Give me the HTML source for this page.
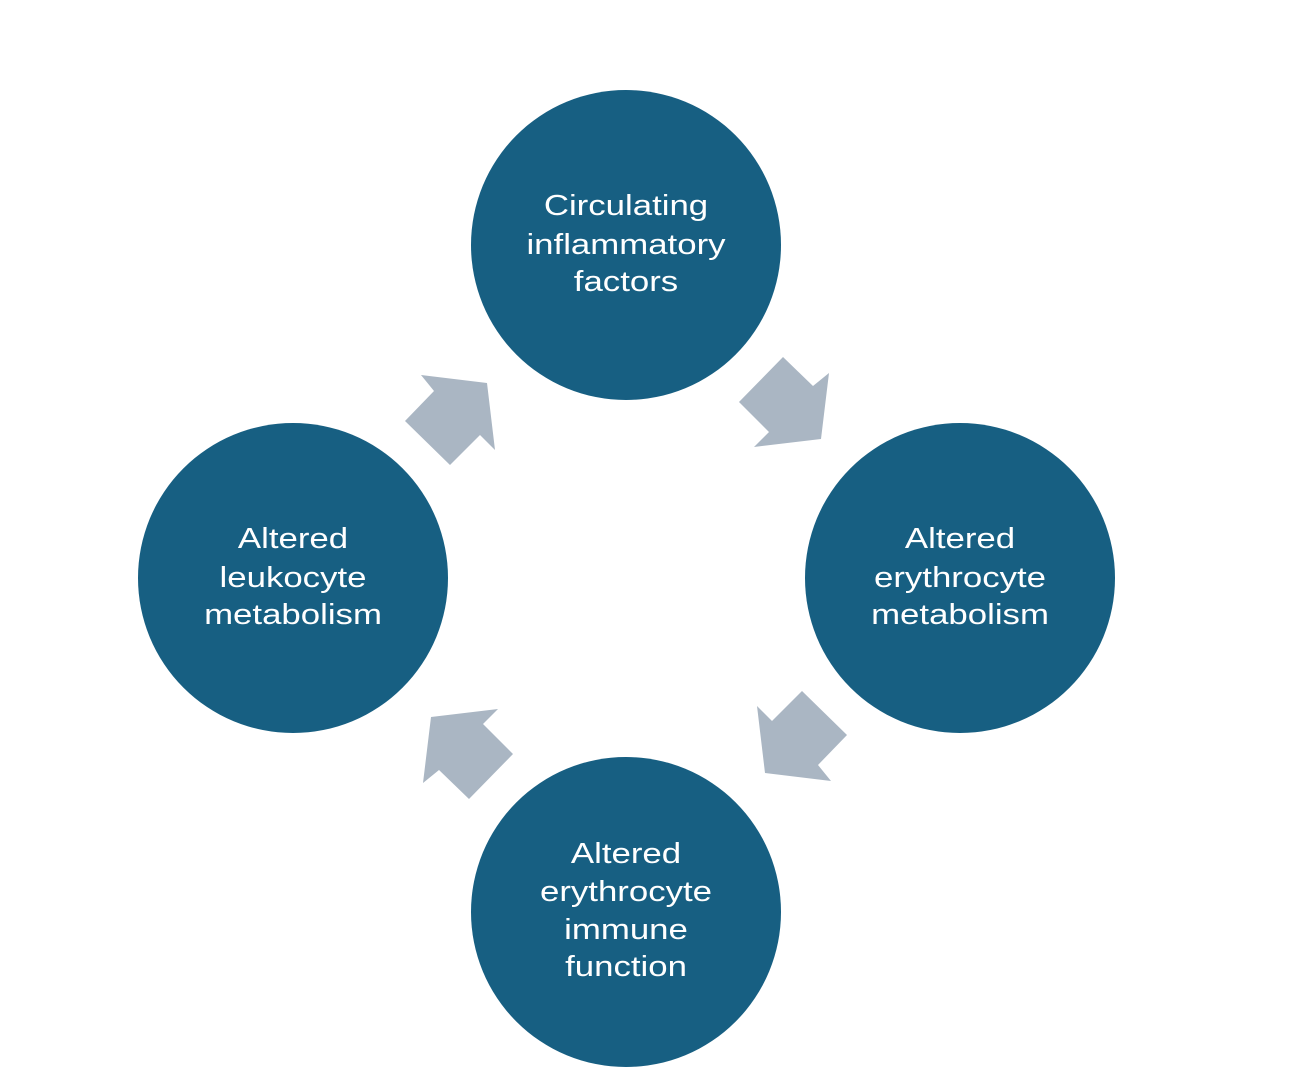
<!DOCTYPE html>
<html><head><style>html,body{margin:0;padding:0;background:#fff;}svg{display:block;}</style></head>
<body>
<svg width="1316" height="1080" viewBox="0 0 1316 1080" xmlns="http://www.w3.org/2000/svg">
<rect width="1316" height="1080" fill="#fff"/>
<g fill="#175f82">
<circle cx="626" cy="245" r="155"/>
<circle cx="960" cy="578" r="155"/>
<circle cx="293" cy="578" r="155"/>
<circle cx="626" cy="912" r="155"/>
</g>
<g fill="#aab6c3">
<polygon points="783,357 813,386 829,373 821,439 754,447 769,432 739,402"/>
<polygon points="783,357 813,386 829,373 821,439 754,447 769,432 739,402" transform="rotate(90 626 578)"/>
<polygon points="783,357 813,386 829,373 821,439 754,447 769,432 739,402" transform="rotate(180 626 578)"/>
<polygon points="783,357 813,386 829,373 821,439 754,447 769,432 739,402" transform="rotate(270 626 578)"/>
</g>
<g fill="#fff" font-family="Liberation Sans, DejaVu Sans, sans-serif" font-size="29" text-anchor="middle">
<g transform="translate(626,0) scale(1.2,1)">
<text x="0" y="215">Circulating</text>
<text x="0" y="254">inflammatory</text>
<text x="0" y="291">factors</text>
</g>
<g transform="translate(960,0) scale(1.2,1)">
<text x="0" y="548">Altered</text>
<text x="0" y="587">erythrocyte</text>
<text x="0" y="624">metabolism</text>
</g>
<g transform="translate(293,0) scale(1.2,1)">
<text x="0" y="548">Altered</text>
<text x="0" y="587">leukocyte</text>
<text x="0" y="624">metabolism</text>
</g>
<g transform="translate(626,0) scale(1.2,1)">
<text x="0" y="863">Altered</text>
<text x="0" y="901">erythrocyte</text>
<text x="0" y="939">immune</text>
<text x="0" y="976">function</text>
</g>
</g>
</svg>
</body></html>
